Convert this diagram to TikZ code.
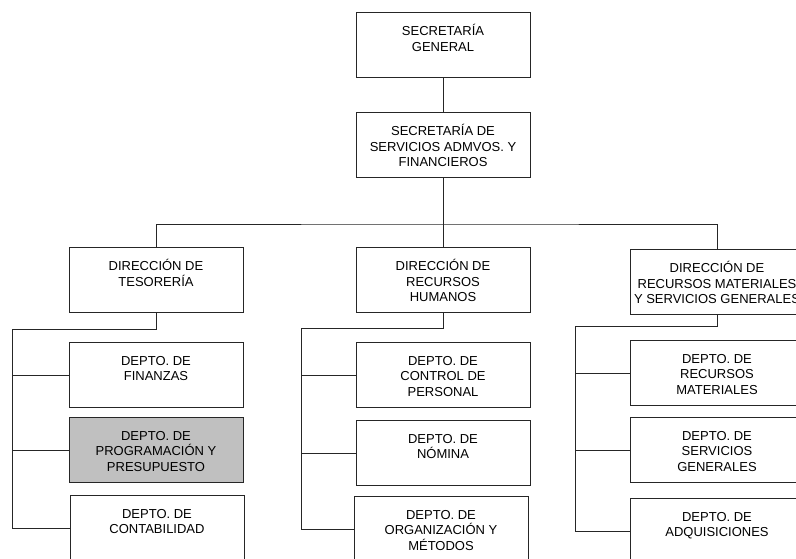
\documentclass[tikz,border=0pt]{standalone}
\usepackage{fontspec}
\setmainfont{Liberation Sans}
\definecolor{gris}{RGB}{192,192,192}
\newcommand{\cajatexto}[1]{\parbox[c][65pt][t]{174pt}{\lineskiplimit=-100pt\centering\vspace*{12pt}\strut #1}}

\begin{document}
\begin{tikzpicture}[x=1pt,y=-1pt,
        caja/.style={draw=black!85,line width=0.9pt,anchor=north,inner sep=0pt,fill=white,
                     font=\fontsize{13}{15.6}\selectfont},
        linea/.style={draw=black!85,line width=0.9pt}]
    \useasboundingbox (0,0) rectangle (796,559);
    \clip (0,0) rectangle (796,559);

    \node[caja] (sg)   at (443,12)  {\cajatexto{SECRETARÍA\\GENERAL}};
    \node[caja] (ssaf) at (443,112) {\cajatexto{SECRETARÍA DE\\SERVICIOS ADMVOS. Y\\FINANCIEROS}};

    \node[caja] (dt)  at (156,247) {\cajatexto{DIRECCIÓN DE\\TESORERÍA}};
    \node[caja] (drh) at (443,247) {\cajatexto{DIRECCIÓN DE\\RECURSOS\\HUMANOS}};
    \node[caja] (drm) at (717,249) {\cajatexto{DIRECCIÓN DE\\RECURSOS MATERIALES\\Y SERVICIOS GENERALES}};

    \node[caja] (dfin)  at (156,342) {\cajatexto{DEPTO. DE\\FINANZAS}};
    \node[caja,fill=gris] (dprog) at (156,417) {\cajatexto{DEPTO. DE\\PROGRAMACIÓN Y\\PRESUPUESTO}};
    \node[caja] (dcont) at (157,495) {\cajatexto{DEPTO. DE\\CONTABILIDAD}};

    \node[caja] (dper) at (443,342) {\cajatexto{DEPTO. DE\\CONTROL DE\\PERSONAL}};
    \node[caja] (dnom) at (443,420) {\cajatexto{DEPTO. DE\\NÓMINA}};
    \node[caja] (dorg) at (441,496) {\cajatexto{DEPTO. DE\\ORGANIZACIÓN Y\\MÉTODOS}};

    \node[caja] (drmat) at (717,340) {\cajatexto{DEPTO. DE\\RECURSOS\\MATERIALES}};
    \node[caja] (dsg)   at (717,417) {\cajatexto{DEPTO. DE\\SERVICIOS\\GENERALES}};
    \node[caja] (dadq)  at (717,498) {\cajatexto{DEPTO. DE\\ADQUISICIONES}};

    \coordinate (bus)  at (443,224);
    \coordinate (ejeT) at (12,329);
    \coordinate (ejeH) at (301,328);
    \coordinate (ejeM) at (575,326);

    \draw[linea] (sg) -- (ssaf);
    \draw[linea] (ssaf.south) -- (drh.north);
    \draw[linea] (dt.north) |- (bus) -| (drm.north);

    \draw[linea] (dt.south) |- (ejeT) -- (ejeT |- dcont.west) -- (dcont.west);
    \draw[linea] (ejeT |- dfin.west) -- (dfin.west);
    \draw[linea] (ejeT |- dprog.west) -- (dprog.west);

    \draw[linea] (drh.south) |- (ejeH) -- (ejeH |- dorg.west) -- (dorg.west);
    \draw[linea] (ejeH |- dper.west) -- (dper.west);
    \draw[linea] (ejeH |- dnom.west) -- (dnom.west);

    \draw[linea] (drm.south) |- (ejeM) -- (ejeM |- dadq.west) -- (dadq.west);
    \draw[linea] (ejeM |- drmat.west) -- (drmat.west);
    \draw[linea] (ejeM |- dsg.west) -- (dsg.west);
\end{tikzpicture}
\end{document}
